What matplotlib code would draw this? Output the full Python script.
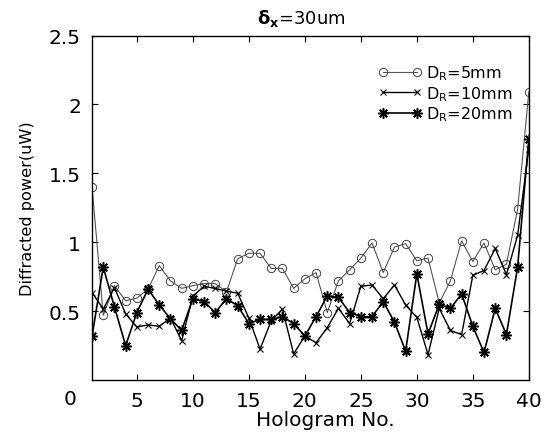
import matplotlib
matplotlib.use("Agg")
import matplotlib.pyplot as plt
from matplotlib.transforms import blended_transform_factory

plt.rcParams['font.family'] = ['DejaVu Sans']
plt.rcParams['mathtext.fontset'] = 'dejavusans'

hologram = list(range(1, 41))

power_5mm = [1.40, 0.47, 0.685, 0.575, 0.595, 0.66, 0.83, 0.72, 0.665, 0.685,
             0.70, 0.70, 0.64, 0.88, 0.92, 0.92, 0.81, 0.81, 0.665, 0.735,
             0.78, 0.49, 0.72, 0.80, 0.885, 0.995, 0.78, 0.965, 0.99, 0.865,
             0.885, 0.56, 0.72, 1.01, 0.86, 0.995, 0.80, 0.84, 1.24, 2.09]

power_10mm = [0.635, 0.515, 0.67, 0.48, 0.385, 0.40, 0.39, 0.45, 0.285, 0.61,
              0.68, 0.665, 0.645, 0.63, 0.45, 0.225, 0.43, 0.515, 0.19, 0.32,
              0.27, 0.38, 0.52, 0.41, 0.68, 0.69, 0.59, 0.69, 0.545, 0.455,
              0.185, 0.52, 0.36, 0.33, 0.76, 0.795, 0.955, 0.765, 1.05, 1.68]

power_20mm = [0.32, 0.82, 0.53, 0.25, 0.49, 0.66, 0.545, 0.445, 0.36, 0.59,
              0.57, 0.49, 0.59, 0.54, 0.41, 0.44, 0.44, 0.46, 0.41, 0.32,
              0.46, 0.61, 0.60, 0.49, 0.46, 0.46, 0.57, 0.42, 0.21, 0.77,
              0.335, 0.55, 0.52, 0.625, 0.39, 0.20, 0.52, 0.33, 0.82, 1.75]

labels = [r'$\mathrm{D_R}$=5mm', r'$\mathrm{D_R}$=10mm', r'$\mathrm{D_R}$=20mm']
xticks = [5, 10, 15, 20, 25, 30, 35, 40]
yticks = [0.5, 1, 1.5, 2, 2.5]
ytick_labels = ['0.5', '1', '1.5', '2', '2.5']

fig = plt.figure(figsize=(5.48, 4.35), dpi=100)
ax = fig.add_axes([0.168, 0.124, 0.797, 0.792])

ax.plot(hologram, power_5mm, color='#555555', lw=0.8, marker='o', ms=6,
        mfc='none', mec='#444444', mew=0.7, label=labels[0])
ax.plot(hologram, power_10mm, color='black', lw=1.0, marker='x', ms=4,
        mew=0.8, label=labels[1])
ax.plot(hologram, power_20mm, color='black', lw=1.2, marker=(8, 2, 0), ms=7.5,
        mew=1.1, label=labels[2])

ax.set_xlim(1, 40)
ax.set_ylim(0, 2.5)
ax.set_xticks(xticks)
ax.set_yticks(yticks)
ax.set_yticklabels(ytick_labels)
ax.tick_params(direction='in', top=True, right=True, labelsize=14.5,
               length=4, width=0.8)
ax.tick_params(axis='x', pad=8)
ax.tick_params(axis='y', pad=8)

# the "0" origin label sits left of the first hologram
trans = blended_transform_factory(ax.transData, ax.transAxes)
ax.text(-1, -0.025, '0', transform=trans, ha='center', va='top', fontsize=14.5)

for s in ax.spines.values():
    s.set_linewidth(1.0)

ax.set_xlabel('Hologram No.', fontsize=14.5, labelpad=0, x=0.535)
ax.set_ylabel('Diffracted power(uW)', fontsize=11.6, labelpad=10)
ax.set_title(r'$\mathbf{\delta_x}$=30um', fontsize=13, pad=9, x=0.48)

leg = ax.legend(loc='upper right', bbox_to_anchor=(0.985, 0.947), frameon=False,
                fontsize=11.5, numpoints=2, handlelength=2.7, handletextpad=0.3,
                labelspacing=0.12, borderaxespad=0.2)

fig.savefig('out.png', dpi=100)
